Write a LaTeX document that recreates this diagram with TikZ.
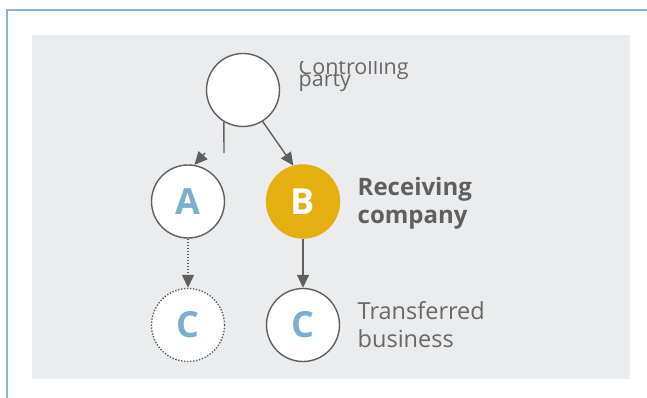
\documentclass[tikz,border=0pt]{standalone}
\usepackage{fontspec}
\setmainfont{Open Sans}
\usetikzlibrary{arrows.meta}

\definecolor{framebl}{HTML}{86B4D2}
\definecolor{panelgr}{HTML}{EBECEE}
\definecolor{linegr}{HTML}{5F5F5F}
\definecolor{textgr}{HTML}{686868}
\definecolor{letterbl}{HTML}{7BAFD0}
\definecolor{gold}{HTML}{E6AF10}

\newcommand{\tightlines}{\lineskiplimit=-100pt\relax\lineskip=0pt\relax}

\begin{document}
\begin{tikzpicture}[->,>={Triangle[length=13pt,width=12pt]},x=1pt,y=-1pt,
                    line width=1.4pt,draw=linegr,
                    entity/.style={circle,draw=linegr,line width=1.4pt,fill=white,
                      minimum size=73pt,inner sep=0pt,text=letterbl,
                      font=\fontsize{36}{36}\selectfont\bfseries},
                    label/.style={anchor=base west,align=left,inner sep=0pt,text=textgr}]

  \useasboundingbox (0,0) rectangle (647,398);
  % frame and panel
  \draw[-,framebl,line width=2.5pt] (7,398) -- (7,10) -- (647,10);
  \fill[panelgr] (32,35) rectangle (630,379);

  \node[entity]                        (P) at (243,90)    {};
  \node[entity]                        (A) at (188,201.5) {A};
  \node[entity,fill=gold,draw=gold,text=white] (B) at (303,201.5) {B};
  \node[entity,dash pattern=on 1.4pt off 1.6pt] (D) at (188,325) {C};
  \node[entity]                        (C) at (303,325)   {C};

  \coordinate (Pstub) at (224,153);
  \coordinate (Astub) at (205,153);

  \draw[-] (P.-121) -- (Pstub);
  \path (Astub) edge              (A.80)
        (P.-58) edge              (B.105)
        (A)     edge[dash pattern=on 1.4pt off 1.6pt] (D)
        (B)     edge              (C);

  % labels (base = last line)
  \begin{scope}
    \clip (280,61.5) rectangle (470,110);
    \node[label,font=\fontsize{21.5}{12.5}\selectfont\tightlines] (Pt) at (298,87)
      {Controlling\\party};
  \end{scope}
  \node[label,font=\fontsize{24}{28}\selectfont\bfseries,text=linegr] (Bt) at (357,223)
    {Receiving\\company};
  \node[label,font=\fontsize{23.5}{28}\selectfont] (Ct) at (357,347)
    {Transferred\\business};
\end{tikzpicture}
\end{document}
